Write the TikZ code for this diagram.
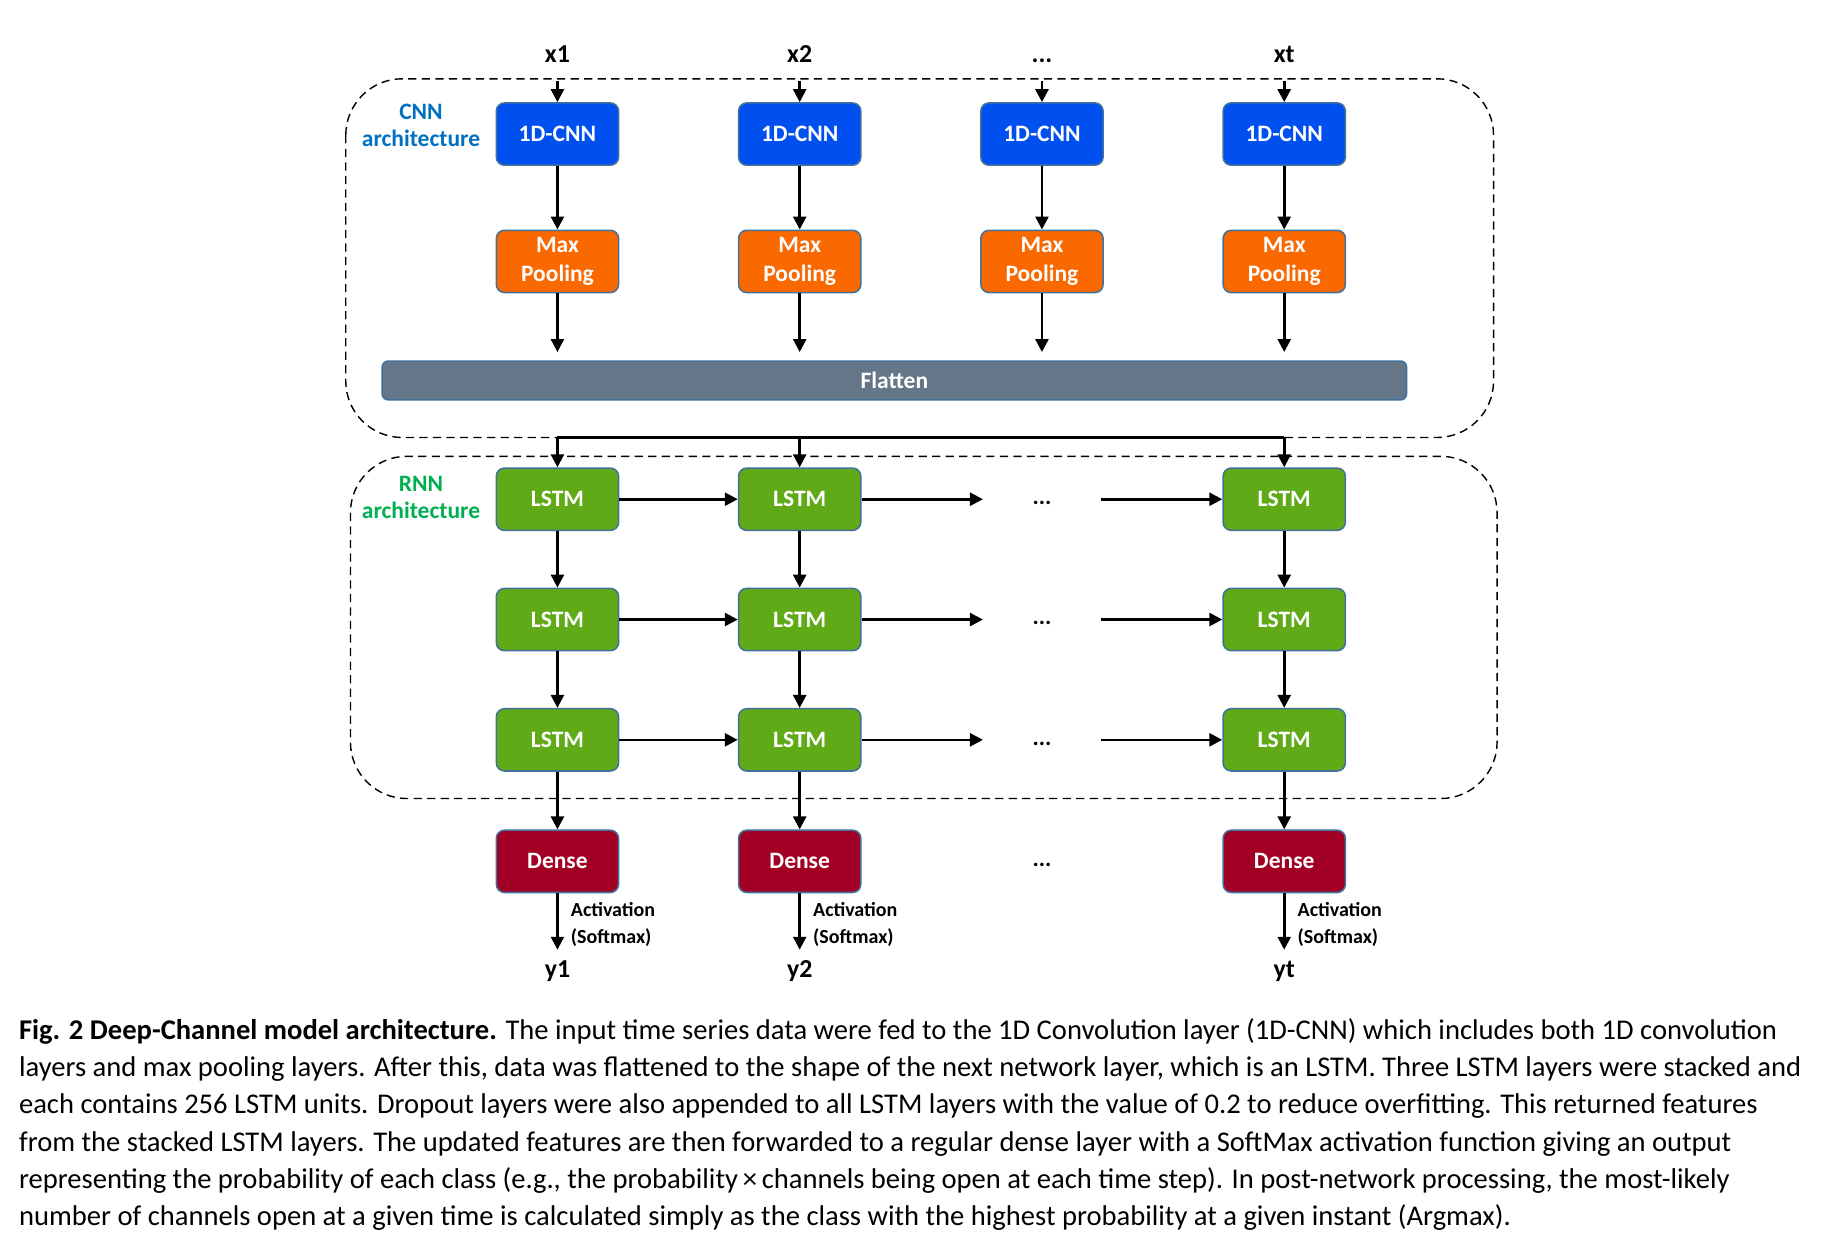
\documentclass[tikz,border=0pt]{standalone}
\usepackage{fontspec}
\setmainfont{Carlito}
\usepackage{tikz}
\usetikzlibrary{positioning,arrows.meta}

\definecolor{cnnblue}{HTML}{0050EF}
\definecolor{poolorange}{HTML}{FA6800}
\definecolor{flatgray}{HTML}{647687}
\definecolor{lstmgreen}{HTML}{60A917}
\definecolor{densered}{HTML}{A20025}
\definecolor{boxline}{HTML}{41719C}
\definecolor{cnntext}{HTML}{0070C0}
\definecolor{rnntext}{HTML}{00B050}

\begin{document}
\begin{tikzpicture}[
    x=1pt, y=1pt,
    node distance=54pt and 100.7pt,
    box/.style={rectangle, draw=boxline, line width=1.3pt, rounded corners=7pt, minimum width=104pt, minimum height=53pt, text=white, align=center, font=\bfseries\fontsize{20}{24}\selectfont},
    arrow/.style={-{Triangle[length=11pt, width=11pt]}, line width=2.2pt},
    group/.style={draw, dash pattern=on 7pt off 4.5pt, line width=1.2pt, rounded corners=48pt},
    label/.style={font=\bfseries\fontsize{22}{26}\selectfont, align=center, text height=15pt, text depth=4pt},
    arch/.style={font=\bfseries\fontsize{20}{23}\selectfont, align=center},
    small/.style={font=\bfseries\fontsize{17}{23}\selectfont, align=left},
    dots/.style={font=\bfseries\fontsize{20}{24}\selectfont, minimum width=100pt, text height=13pt, text depth=4pt}
]
    \useasboundingbox (0,0) rectangle (1568,-1063);

    % CNN Layer
    \node[box, fill=cnnblue] (cnn1) at (474,-114) {1D-CNN};
    \node[box, fill=cnnblue, right=of cnn1] (cnn2) {1D-CNN};
    \node[box, fill=cnnblue, right=of cnn2] (cnn3) {1D-CNN};
    \node[box, fill=cnnblue, right=of cnn3] (cnn4) {1D-CNN};

    \node[box, fill=poolorange, below=of cnn1] (pool1) {Max\\Pooling};
    \node[box, fill=poolorange, below=of cnn2] (pool2) {Max\\Pooling};
    \node[box, fill=poolorange, below=of cnn3] (pool3) {Max\\Pooling};
    \node[box, fill=poolorange, below=of cnn4] (pool4) {Max\\Pooling};

    \node[box, fill=flatgray, minimum width=871pt, minimum height=33pt, rounded corners=5pt] (flat) at (760.5,-323.5) {Flatten};

    % Inputs
    \node[label] (x1) at (cnn1 |- 0,-48) {x1};
    \node[label] (x2) at (cnn2 |- x1) {x2};
    \node[label] (x3) at (cnn3 |- x1) {...};
    \node[label] (x4) at (cnn4 |- x1) {xt};

    % RNN Layer
    \node[box, fill=lstmgreen] (lstm11) at (474,-424.5) {LSTM};
    \node[box, fill=lstmgreen, right=of lstm11] (lstm12) {LSTM};
    \node[dots] (dots1) at (cnn3 |- lstm11) {...};
    \node[box, fill=lstmgreen] (lstm14) at (cnn4 |- lstm11) {LSTM};

    \node[box, fill=lstmgreen, below=48pt of lstm11] (lstm21) {LSTM};
    \node[box, fill=lstmgreen, right=of lstm21] (lstm22) {LSTM};
    \node[dots] (dots2) at (cnn3 |- lstm21) {...};
    \node[box, fill=lstmgreen] (lstm24) at (cnn4 |- lstm21) {LSTM};

    \node[box, fill=lstmgreen, below=48pt of lstm21] (lstm31) {LSTM};
    \node[box, fill=lstmgreen, right=of lstm31] (lstm32) {LSTM};
    \node[dots] (dots3) at (cnn3 |- lstm31) {...};
    \node[box, fill=lstmgreen] (lstm34) at (cnn4 |- lstm31) {LSTM};

    % Output Layer
    \node[box, fill=densered, below=49pt of lstm31] (dense1) {Dense};
    \node[box, fill=densered, right=of dense1] (dense2) {Dense};
    \node[dots] (dots4) at (cnn3 |- dense1) {...};
    \node[box, fill=densered] (dense4) at (cnn4 |- dense1) {Dense};

    \node[label, below=53pt of dense1] (y1) {y1};
    \node[label, below=53pt of dense2] (y2) {y2};
    \node[label, below=53pt of dense4] (y4) {yt};

    % Groups
    \draw[group] (294,-67) rectangle (1270,-372);
    \draw[group] (298,-388) rectangle (1273,-679);
    \node[arch, text=cnntext] (cnnlab) at (358,-107) {CNN\\architecture};
    \node[arch, text=rnntext] (rnnlab) at (358,-423) {RNN\\architecture};

    % Arrows
    \foreach \i in {1,2,3,4} {
        \draw[arrow, shorten <=8pt] (x\i) -- (cnn\i);
        \draw[arrow] (cnn\i) -- (pool\i);
        \draw[arrow, shorten >=7pt] (pool\i) -- (pool\i |- flat.north);
    }

    \coordinate (bus) at (0,-372);
    \draw[line width=2.2pt] (lstm11.north |- bus) -- (lstm14.north |- bus);
    \foreach \i in {1,2,4} {
        \draw[arrow] (lstm1\i.north |- bus) -- (lstm1\i);
    }

    \foreach \r in {1,2,3} {
        \draw[arrow] (lstm\r1) -- (lstm\r2);
        \draw[arrow] (lstm\r2) -- (dots\r);
        \draw[arrow] (dots\r) -- (lstm\r4);
    }
    \foreach \i in {1,2,4} {
        \draw[arrow] (lstm1\i) -- (lstm2\i);
        \draw[arrow] (lstm2\i) -- (lstm3\i);
        \draw[arrow] (lstm3\i) -- (dense\i);
    }

    \draw[arrow, shorten >=5pt] (dense1) -- (y1) node[small, midway, right=7pt] {Activation\\(Softmax)};
    \draw[arrow, shorten >=5pt] (dense2) -- (y2) node[small, midway, right=7pt] {Activation\\(Softmax)};
    \draw[arrow, shorten >=5pt] (dense4) -- (y4) node[small, midway, right=7pt] {Activation\\(Softmax)};

    % Caption
    \node[anchor=north west, align=left, inner sep=0pt, font=\fontsize{24.3}{31.6}\selectfont] (caption) at (16,-866) {%
        \textbf{Fig. 2 Deep-Channel model architecture.} The input time series data were fed to the 1D Convolution layer (1D-CNN) which includes both 1D convolution\\
        layers and max pooling layers. After this, data was flattened to the shape of the next network layer, which is an LSTM. Three LSTM layers were stacked and\\
        each contains 256 LSTM units. Dropout layers were also appended to all LSTM layers with the value of 0.2 to reduce overfitting. This returned features\\
        from the stacked LSTM layers. The updated features are then forwarded to a regular dense layer with a SoftMax activation function giving an output\\
        representing the probability of each class (e.g., the probability\,×\,channels being open at each time step). In post-network processing, the most-likely\\
        number of channels open at a given time is calculated simply as the class with the highest probability at a given instant (Argmax).};
\end{tikzpicture}
\end{document}
